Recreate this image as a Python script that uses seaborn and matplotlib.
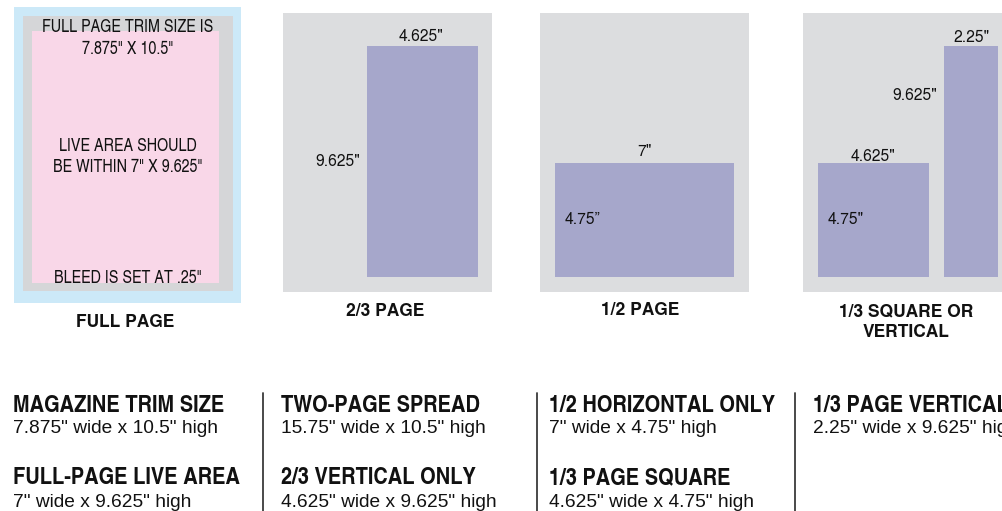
import matplotlib
matplotlib.use("Agg")
import matplotlib.pyplot as plt
import seaborn as sns
from matplotlib import font_manager as fm

# ---------------- data ----------------
panel_titles = ["FULL PAGE", "2/3 PAGE", "1/2 PAGE", "1/3 SQUARE OR\nVERTICAL"]
trim_size = (7.875, 10.5)          # width, height (in)
live_area = (7.0, 9.625)
bleed = 0.25
two_thirds = (4.625, 9.625)
half_page = (7.0, 4.75)
third_square = (4.625, 4.75)
third_vertical = (2.25, 9.625)

spec_titles = [["MAGAZINE TRIM SIZE", "FULL-PAGE LIVE AREA"],
               ["TWO-PAGE SPREAD", "2/3 VERTICAL ONLY"],
               ["1/2 HORIZONTAL ONLY", "1/3 PAGE SQUARE"],
               ["1/3 PAGE VERTICAL"]]
spec_sizes = [[(7.875, 10.5), (7.0, 9.625)],
              [(15.75, 10.5), (4.625, 9.625)],
              [(7.0, 4.75), (4.625, 4.75)],
              [(2.25, 9.625)]]


def inch(v, q='"'):
    return f"{v:g}{q}"


# ---------------- style ----------------
sns.set_theme(style="white")
names = {f.name for f in fm.fontManager.ttflist}


def pick(*opts):
    for o in opts:
        if o in names:
            return o
    return "DejaVu Sans"


COND = pick("TeX Gyre Heros Cn", "Archivo Narrow", "Roboto Condensed", "Liberation Sans")
HELV = pick("TeX Gyre Heros", "Liberation Sans")
ARIAL = pick("Liberation Sans", "TeX Gyre Heros")
plt.rcParams["font.family"] = [ARIAL, "DejaVu Sans"]

BLUE = "#cce9f8"
TRIM_GRAY = "#d5d6d8"
PINK = "#f9d7e8"
PAGE_GRAY = "#dcdddf"
PURPLE = "#a6a7cb"
INK = "#111111"

W, H = 1003, 511
fig = plt.figure(figsize=(W / 100, H / 100), dpi=100)
fig.patch.set_facecolor("white")


def px_axes(x0, y0, x1, y1):
    return fig.add_axes([x0 / W, 1 - y1 / H, (x1 - x0) / W, (y1 - y0) / H])


def clean(ax, face):
    ax.set_facecolor(face)
    ax.set_xticks([])
    ax.set_yticks([])
    sns.despine(ax=ax, left=True, bottom=True)
    ax.grid(False)


def rect(ax, left, bottom, wh, color):
    ax.bar(left, wh[1], width=wh[0], bottom=bottom, align="edge",
           color=color, linewidth=0)


num_kw = dict(fontsize=11.3, color=INK, family=[HELV, "DejaVu Sans"])

# ---- panel 1 : full page ----
ax1 = px_axes(14, 7, 241, 303)
clean(ax1, BLUE)
ax1.set_xlim(0, trim_size[0] + 2.5 * bleed)
ax1.set_ylim(0, trim_size[1] + 3.2 * bleed)
rect(ax1, 0.34, 0.46, trim_size, TRIM_GRAY)
rect(ax1, 0.67, 0.76, live_area, PINK)

# ---- panel 2 : 2/3 page ----
ax2 = px_axes(283, 13, 492, 292)
clean(ax2, PAGE_GRAY)
ax2.set_xlim(0, 8.71)
ax2.set_ylim(0, 11.625)
l, b = 3.5, 0.625
rect(ax2, l, b, two_thirds, PURPLE)
ax2.annotate(inch(two_thirds[0]), xy=(l + two_thirds[0] / 2, b + two_thirds[1]),
             xytext=(-2, 5), textcoords="offset pixels", ha="center", va="baseline", **num_kw)
ax2.annotate(inch(two_thirds[1]), xy=(l, b + two_thirds[1] / 2),
             xytext=(-7, 0), textcoords="offset pixels", ha="right", va="center", **num_kw)

# ---- panel 3 : 1/2 page ----
ax3 = px_axes(540, 13, 749, 292)
clean(ax3, PAGE_GRAY)
ax3.set_xlim(0, 8.16)
ax3.set_ylim(0, 11.625)
l, b = 0.59, 0.625
rect(ax3, l, b, half_page, PURPLE)
ax3.annotate(inch(half_page[0]), xy=(l + half_page[0] / 2, b + half_page[1]),
             xytext=(0, 7), textcoords="offset pixels", ha="center", va="baseline", **num_kw)
ax3.annotate(inch(half_page[1], "\u201d"), xy=(l, b + half_page[1] / 2),
             xytext=(9, 0), textcoords="offset pixels", ha="left", va="center", **num_kw)

# ---- panel 4 : 1/3 square / vertical ----
ax4 = px_axes(803, 13, 1012, 292)
clean(ax4, PAGE_GRAY)
ax4.set_xlim(0, 8.71)
ax4.set_ylim(0, 11.625)
l, b = 0.625, 0.625
rect(ax4, l, b, third_square, PURPLE)
ax4.annotate(inch(third_square[0]), xy=(l + third_square[0] / 2, b + third_square[1]),
             xytext=(-1, 2), textcoords="offset pixels", ha="center", va="baseline", **num_kw)
ax4.annotate(inch(third_square[1]), xy=(l, b + third_square[1] / 2),
             xytext=(10, 0), textcoords="offset pixels", ha="left", va="center", **num_kw)
l2 = 5.875
rect(ax4, l2, b, third_vertical, PURPLE)
ax4.annotate(inch(third_vertical[0]), xy=(l2 + third_vertical[0] / 2, b + third_vertical[1]),
             xytext=(0, 4), textcoords="offset pixels", ha="center", va="baseline", **num_kw)
ax4.annotate(inch(third_vertical[1]), xy=(l2, b + third_vertical[1]),
             xytext=(-7, -50), textcoords="offset pixels", ha="right", va="center", **num_kw)

# ---------------- overlay (text + separators) ----------------
ov = fig.add_axes([0, 0, 1, 1], facecolor="none")
ov.set_xlim(0, W)
ov.set_ylim(H, 0)
ov.axis("off")

# full page notes
notes = [("FULL PAGE TRIM SIZE IS", 32.3),
         (f"{inch(trim_size[0])} X {inch(trim_size[1])}", 54.5),
         ("LIVE AREA SHOULD", 151),
         (f"BE WITHIN {inch(live_area[0])} X {inch(live_area[1])}", 172),
         (f"BLEED IS SET AT {inch(bleed).lstrip('0')}", 283)]
for txt, yb in notes:
    ov.text(127.5, yb, txt, ha="center", va="baseline", fontsize=12.6,
            family=[COND, "DejaVu Sans"], color=INK)

# panel titles
title_pos = [(125.5, [327]), (385, [316]), (640.5, [315]), (906, [316, 337])]
for title, (xc, ybs) in zip(panel_titles, title_pos):
    for line, yb in zip(title.split("\n"), ybs):
        ov.text(xc, yb, line, ha="center", va="baseline", fontsize=12.5,
                fontweight="bold", family=[HELV, "DejaVu Sans"], color=INK)

# spec columns
col_x = [13, 281, 549, 813]
head_y = [412.5, 484.5]
sub_y = [433.3, 507]
for cx, titles, sizes in zip(col_x, spec_titles, spec_sizes):
    for i, (t, (sw, sh)) in enumerate(zip(titles, sizes)):
        ov.text(cx, head_y[i], t, ha="left", va="baseline", fontsize=17.6,
                fontweight="bold", family=[COND, "DejaVu Sans"], color=INK)
        ov.text(cx, sub_y[i], f"{inch(sw)} wide x {inch(sh)} high", ha="left",
                va="baseline", fontsize=13.8, family=[ARIAL, "DejaVu Sans"], color=INK)

for sx in [263, 537, 795]:
    ov.plot([sx, sx], [393, H], color="#3a3a3a", lw=1.3)

fig.savefig("out.png", dpi=100)
